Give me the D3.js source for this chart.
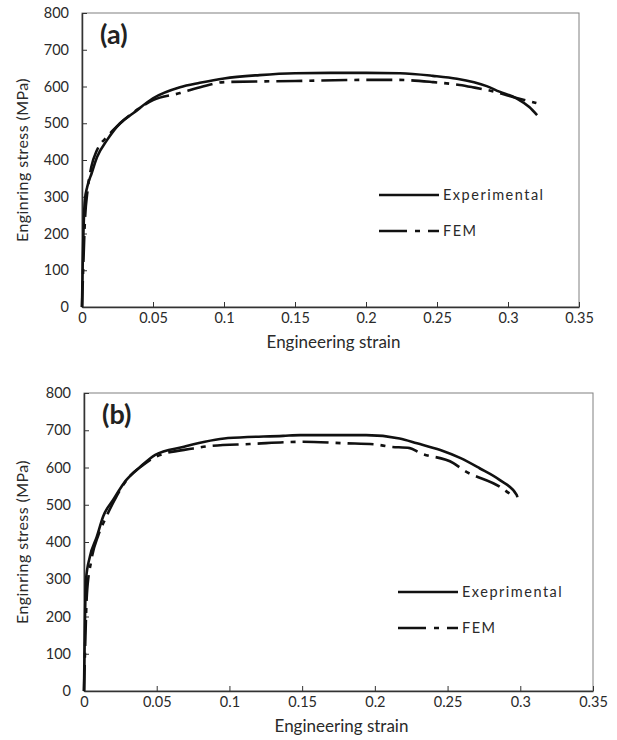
<!DOCTYPE html>
<html>
<head>
<meta charset="utf-8">
<script src="https://cdn.jsdelivr.net/npm/d3@7"></script>
<style>
  body { margin: 0; background: #fff; }
  svg text { font-family: Lato, "Open Sans", sans-serif; fill: #2a2a2a; }
</style>
</head>
<body>
<div id="chart"></div>
<script>
// Tensile curves, panel (a) and (b): experimental vs FEM

const xTicks = [0, 0.05, 0.1, 0.15, 0.2, 0.25, 0.3, 0.35];
const yTicks = [0, 100, 200, 300, 400, 500, 600, 700, 800];

// panel (a)
const strainExpA = [0, 0.0005, 0.001, 0.002, 0.0037, 0.0068, 0.0106, 0.0176, 0.0268, 0.036, 0.05, 0.069, 0.083, 0.1, 0.125, 0.15, 0.175, 0.2, 0.224, 0.247, 0.264, 0.285, 0.294, 0.306, 0.315, 0.3205];
const stressExpA = [0, 120, 200, 290, 327, 364, 408, 454, 500, 527, 568, 598, 610, 622, 631, 636, 637, 637, 636, 629, 621, 601, 586, 568, 544, 522];
const strainFemA = [0, 0.0008, 0.002, 0.004, 0.0065, 0.0106, 0.0176, 0.027, 0.04, 0.05, 0.069, 0.085, 0.1, 0.15, 0.2, 0.222, 0.247, 0.266, 0.275, 0.287, 0.304, 0.32];
const stressFemA = [0, 100, 230, 320, 380, 427, 463, 500, 540, 563, 582, 600, 612, 615, 618, 618, 612, 604, 598, 589, 571, 555];

// panel (b)
const strainExpB = [0, 0.0005, 0.0014, 0.004, 0.0087, 0.0133, 0.02, 0.029, 0.0385, 0.049, 0.068, 0.099, 0.137, 0.1486, 0.194, 0.217, 0.229, 0.245, 0.259, 0.272, 0.286, 0.2976, 0.298];
const stressExpB = [0, 150, 300, 360, 413, 470, 513, 566, 601, 634, 655, 679, 685, 687, 687, 678, 665, 647, 625, 598, 566, 526, 520];
const strainFemB = [0, 0.0008, 0.002, 0.005, 0.01, 0.015, 0.022, 0.03, 0.04, 0.05, 0.075, 0.087, 0.114, 0.15, 0.18, 0.2, 0.21, 0.224, 0.231, 0.254, 0.261, 0.286, 0.296];
const stressFemB = [0, 120, 260, 350, 420, 465, 520, 570, 605, 630, 651, 658, 663, 669, 665, 662, 656, 652, 639, 612, 593, 548, 520];

const panels = [
  { tag: "(a)", left: 82, right: 579, top: 13, bottom: 307,
    exp: [strainExpA, stressExpA], fem: [strainFemA, stressFemA],
    expName: "Experimental", legendX: 379, legendY: 195 },
  { tag: "(b)", left: 84, right: 593, top: 393, bottom: 691,
    exp: [strainExpB, stressExpB], fem: [strainFemB, stressFemB],
    expName: "Exeprimental", legendX: 398, legendY: 592 }
];

const femDash = "26,7,5,7";

const svg = d3.select("#chart").append("svg")
  .attr("width", 617)
  .attr("height", 740);

panels.forEach(p => {
  const x = d3.scaleLinear().domain([0, 0.35]).range([p.left, p.right]);
  const y = d3.scaleLinear().domain([0, 800]).range([p.bottom, p.top]);
  const g = svg.append("g");

  // frame (top/right lighter)
  g.append("rect")
    .attr("x", p.left).attr("y", p.top)
    .attr("width", p.right - p.left).attr("height", p.bottom - p.top)
    .attr("fill", "none").attr("stroke", "#808080").attr("stroke-width", 1);

  const xAxis = g.append("g")
    .attr("transform", `translate(0,${p.bottom})`)
    .call(d3.axisBottom(x).tickValues(xTicks).tickFormat(d => String(d))
      .tickSizeInner(-5).tickSizeOuter(0).tickPadding(6));
  const yAxis = g.append("g")
    .attr("transform", `translate(${p.left},0)`)
    .call(d3.axisLeft(y).tickValues(yTicks).tickFormat(d3.format("d"))
      .tickSizeInner(-5).tickSizeOuter(0).tickPadding(13));

  [xAxis, yAxis].forEach(a => {
    a.select(".domain").attr("stroke", "#333").attr("stroke-width", 1.5);
    a.selectAll(".tick line").attr("stroke", "#333");
    a.selectAll(".tick text").attr("font-size", 14.5).attr("fill", "#2a2a2a")
      .style("font-family", "Lato, sans-serif");
  });

  const line = d3.line()
    .x(d => x(d[0]))
    .y(d => y(d[1]))
    .curve(d3.curveMonotoneX);

  const expPts = p.exp[0].map((s, i) => [s, p.exp[1][i]]);
  const femPts = p.fem[0].map((s, i) => [s, p.fem[1][i]]);

  g.append("path").datum(femPts)
    .attr("d", line)
    .attr("fill", "none").attr("stroke", "#111")
    .attr("stroke-width", 2.6)
    .attr("stroke-dasharray", femDash);

  g.append("path").datum(expPts)
    .attr("d", line)
    .attr("fill", "none").attr("stroke", "#111")
    .attr("stroke-width", 2.6);

  // panel tag
  g.append("text")
    .attr("x", p.left + 18).attr("y", p.top + 31)
    .attr("font-size", 27).attr("font-weight", "bold")
    .style("fill", "#222")
    .text(p.tag);

  // axis titles
  g.append("text")
    .attr("x", (p.left + p.right) / 2 + 3)
    .attr("y", p.bottom + 41)
    .attr("text-anchor", "middle")
    .attr("font-size", 17)
    .text("Engineering strain");

  g.append("text")
    .attr("transform", `translate(28,${(p.top + p.bottom) / 2}) rotate(-90)`)
    .attr("text-anchor", "middle")
    .attr("font-size", 16)
    .attr("letter-spacing", 0.4)
    .text("Enginring stress (MPa)");

  // legend
  const lg = g.append("g");
  lg.append("line")
    .attr("x1", p.legendX).attr("x2", p.legendX + 60)
    .attr("y1", p.legendY).attr("y2", p.legendY)
    .attr("stroke", "#111").attr("stroke-width", 2.6);
  lg.append("text")
    .attr("x", p.legendX + 64).attr("y", p.legendY + 5)
    .attr("font-size", 14.5).attr("letter-spacing", 1.5)
    .text(p.expName);
  lg.append("line")
    .attr("x1", p.legendX).attr("x2", p.legendX + 60)
    .attr("y1", p.legendY + 36).attr("y2", p.legendY + 36)
    .attr("stroke", "#111").attr("stroke-width", 2.6)
    .attr("stroke-dasharray", "28,8,5,8");
  lg.append("text")
    .attr("x", p.legendX + 64).attr("y", p.legendY + 41)
    .attr("font-size", 14.5).attr("letter-spacing", 1.5)
    .text("FEM");
});
</script>
</body>
</html>
